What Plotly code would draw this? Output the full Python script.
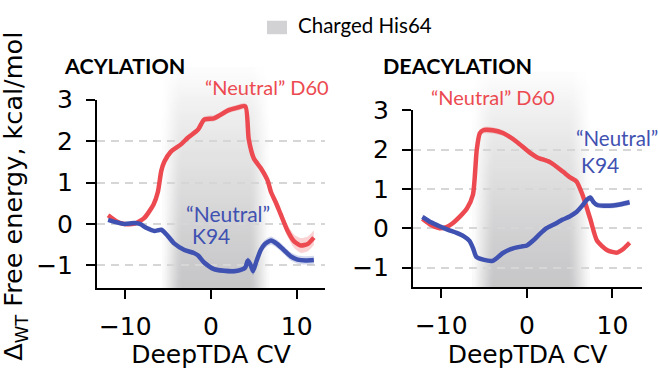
import base64
import struct
import zlib

import plotly.graph_objects as go

# ---------------- data ----------------
acyl_d60_x = [-12.0, -11.0, -10.1, -8.9, -7.8, -6.7, -6.2, -5.8, -5.45, -4.7, -3.5, -2.7, -1.5, -0.8,
              0.35, 1.0, 2.0, 3.0, 4.0, 4.4, 5.0, 5.8, 6.6, 7.0, 7.6, 8.1, 8.9, 9.7, 10.5, 11.3, 12.0]
acyl_d60_y = [0.21, 0.06, 0.0, 0.01, 0.14, 0.47, 0.77, 1.28, 1.5, 1.74, 1.92, 2.08, 2.28, 2.52,
              2.55, 2.62, 2.74, 2.8, 2.84, 2.05, 1.58, 1.35, 1.05, 0.77, 0.5, 0.25, -0.15, -0.42, -0.52, -0.48, -0.33]
acyl_d60_err = [0.04, 0.03, 0.03, 0.03, 0.03, 0.04, 0.04, 0.05, 0.05, 0.05, 0.05, 0.06, 0.06, 0.07,
                0.07, 0.07, 0.07, 0.07, 0.07, 0.06, 0.06, 0.06, 0.07, 0.08, 0.1, 0.12, 0.14, 0.16, 0.18, 0.18, 0.18]

acyl_k94_x = [-12.0, -11.0, -10.1, -9.0, -8.3, -7.5, -6.6, -5.8, -5.0, -4.3, -3.1, -2.0, -1.5, -0.8,
              0.35, 1.5, 2.7, 3.6, 4.0, 4.3, 4.6, 4.9, 5.3, 5.8, 6.3, 7.0, 7.7, 8.5, 9.3, 10.1, 11.0, 12.0]
acyl_k94_y = [0.1, 0.04, 0.0, 0.02, 0.0, -0.1, -0.17, -0.14, -0.3, -0.47, -0.63, -0.7, -0.76, -0.93,
              -1.09, -1.13, -1.14, -1.1, -1.05, -0.88, -0.98, -1.14, -0.9, -0.63, -0.48, -0.4, -0.48, -0.63,
              -0.78, -0.86, -0.88, -0.87]
acyl_k94_err = [0.03, 0.03, 0.03, 0.03, 0.03, 0.03, 0.04, 0.04, 0.04, 0.04, 0.04, 0.05, 0.05, 0.05,
                0.06, 0.06, 0.06, 0.06, 0.07, 0.08, 0.08, 0.1, 0.1, 0.1, 0.1, 0.1, 0.1, 0.1,
                0.1, 0.1, 0.1, 0.1]

deacyl_d60_x = [-12.2, -11.2, -10.2, -9.4, -8.7, -7.8, -7.0, -6.3, -5.85, -5.5, -5.1, -4.0, -2.8, -2.0,
                -1.2, 0.35, 1.2, 2.7, 4.2, 5.0, 5.8, 6.5, 7.4, 8.2, 9.4, 10.5, 11.3, 12.0]
deacyl_d60_y = [0.24, 0.08, 0.0, 0.03, 0.12, 0.3, 0.5, 0.85, 2.0, 2.41, 2.49, 2.49, 2.42, 2.32,
                2.2, 1.92, 1.8, 1.68, 1.44, 1.3, 1.19, 0.85, 0.24, -0.32, -0.56, -0.62, -0.52, -0.37]
deacyl_d60_err = [0.05, 0.04, 0.03, 0.03, 0.03, 0.04, 0.04, 0.05, 0.06, 0.07, 0.08, 0.08, 0.07, 0.06,
                  0.06, 0.06, 0.06, 0.06, 0.06, 0.06, 0.06, 0.06, 0.06, 0.06, 0.06, 0.06, 0.06, 0.06]

deacyl_k94_x = [-12.2, -11.2, -10.2, -9.2, -8.2, -7.4, -6.7, -6.3, -5.9, -5.1, -4.0, -3.4, -2.8, -1.6,
                -0.5, 0.0, 0.7, 1.5, 2.3, 3.2, 4.2, 5.0, 5.8, 6.5, 7.0, 7.4, 7.8, 8.2, 9.0, 10.1, 11.0, 12.0]
deacyl_k94_y = [0.29, 0.15, 0.05, -0.04, -0.12, -0.2, -0.32, -0.5, -0.73, -0.8, -0.83, -0.74, -0.63, -0.51,
                -0.46, -0.44, -0.32, -0.15, 0.0, 0.1, 0.22, 0.3, 0.41, 0.58, 0.72, 0.78, 0.66, 0.59,
                0.57, 0.58, 0.61, 0.66]
deacyl_k94_err = [0.06, 0.05, 0.04, 0.03, 0.03, 0.03, 0.03, 0.04, 0.04, 0.04, 0.04, 0.04, 0.04, 0.04,
                  0.04, 0.04, 0.04, 0.04, 0.04, 0.04, 0.04, 0.05, 0.05, 0.05, 0.06, 0.06, 0.06, 0.07,
                  0.07, 0.07, 0.07, 0.07]

# charged His64 region (DeepTDA CV) per panel
acyl_charged = (-4.4, 5.5)
deacyl_charged = (-5.1, 6.1)

y_ticks = [-1, 0, 1, 2, 3]
x_ticks = [-10, 0, 10]

titles = ["ACYLATION", "DEACYLATION"]
legend_label = "Charged His64"
x_title = "DeepTDA CV"
y_title = "Δ<sub>WT</sub> Free energy, kcal/mol"

# ---------------- style ----------------
RED = "#EC4A50"
BLUE = "#3F51B1"
RED_BAND = "rgba(236,74,80,0.25)"
BLUE_BAND = "rgba(63,81,177,0.22)"
TICK_FONT = dict(family="DejaVu Sans", size=25, color="black")
ANN_FONT = "Lato"

W, H = 658, 369


def px(X):
    return X / W


def py(Y):
    return 1 - Y / H


fig = go.Figure()


def add_series(x, y, err, color, band, xa, ya):
    upper = [v + e for v, e in zip(y, err)]
    lower = [v - e for v, e in zip(y, err)]
    ln = dict(width=0, shape="spline", smoothing=0.6)
    fig.add_trace(go.Scatter(x=x, y=upper, mode="lines", line=ln,
                             xaxis=xa, yaxis=ya, showlegend=False, hoverinfo="skip"))
    fig.add_trace(go.Scatter(x=x, y=lower, mode="lines", line=ln,
                             fill="tonexty", fillcolor=band, xaxis=xa, yaxis=ya, showlegend=False,
                             hoverinfo="skip"))
    fig.add_trace(go.Scatter(x=x, y=y, mode="lines",
                             line=dict(color=color, width=4.5, shape="spline", smoothing=0.6),
                             xaxis=xa, yaxis=ya, showlegend=False))


add_series(acyl_d60_x, acyl_d60_y, acyl_d60_err, RED, RED_BAND, "x", "y")
add_series(acyl_k94_x, acyl_k94_y, acyl_k94_err, BLUE, BLUE_BAND, "x", "y")
add_series(deacyl_d60_x, deacyl_d60_y, deacyl_d60_err, RED, RED_BAND, "x2", "y2")
add_series(deacyl_k94_x, deacyl_k94_y, deacyl_k94_err, BLUE, BLUE_BAND, "x2", "y2")


# ---- soft gradient image for the charged region (tiny PNG stretched by the browser) ----
def gradient_png(nx, ny, fade_cols, max_alpha, rgb):
    rows = []
    for r in range(ny):
        v = (r + 0.5) / ny  # 0 at top, 1 at bottom
        va = v ** 0.8
        row = bytearray([0])
        for c in range(nx):
            d = min(c + 0.5, nx - c - 0.5)
            ha = min(1.0, d / fade_cols)
            a = int(round(255 * max_alpha * va * ha))
            row += bytes([rgb[0], rgb[1], rgb[2], a])
        rows.append(bytes(row))
    raw = b"".join(rows)

    def chunk(tag, data):
        c = struct.pack(">I", len(data)) + tag + data
        return c + struct.pack(">I", zlib.crc32(tag + data) & 0xFFFFFFFF)

    png = b"\x89PNG\r\n\x1a\n"
    png += chunk(b"IHDR", struct.pack(">IIBBBBB", nx, ny, 8, 6, 0, 0, 0))
    png += chunk(b"IDAT", zlib.compress(raw, 9))
    png += chunk(b"IEND", b"")
    return "data:image/png;base64," + base64.b64encode(png).decode()


GRAD = gradient_png(30, 24, 5.0, 0.36, (95, 95, 100))


def add_shade(span, xref, bottom_px, top_px):
    fade = 1.3
    fig.add_layout_image(source=GRAD, xref=xref, yref="paper", x=span[0] - fade, y=py(top_px),
                         sizex=(span[1] - span[0]) + 2 * fade, sizey=(bottom_px - top_px) / H,
                         sizing="stretch", xanchor="left", yanchor="top", layer="below", opacity=1)


add_shade(acyl_charged, "x", 285, 55)
add_shade(deacyl_charged, "x2", 284, 60)

axis_common = dict(showline=True, linecolor="black", linewidth=2, ticks="outside", ticklen=9,
                   tickwidth=2, tickcolor="black", tickfont=TICK_FONT, zeroline=False)
title_font = dict(family="DejaVu Sans", size=25, color="black")
grid = dict(showgrid=True, gridcolor="#d6d6d6", gridwidth=1.5, griddash="8px,6px")

fig.update_layout(
    width=W, height=H, margin=dict(l=0, r=0, t=0, b=0),
    plot_bgcolor="rgba(0,0,0,0)", paper_bgcolor="white", showlegend=False,
    xaxis=dict(domain=[px(97), px(325)], range=[-13.3, 13.3], tickvals=x_ticks, showgrid=False,
               anchor="y", ticklabelstandoff=6, title=dict(text=x_title, font=title_font, standoff=4),
               **axis_common),
    yaxis=dict(domain=[py(285), py(89)], range=[-1.55, 3.0], tickvals=y_ticks, anchor="x",
               ticklabelstandoff=8, **grid, **axis_common),
    xaxis2=dict(domain=[px(413), px(642)], range=[-13.3, 13.45], tickvals=x_ticks, showgrid=False,
                anchor="y2", ticklabelstandoff=6, title=dict(text=x_title, font=title_font, standoff=4),
                **axis_common),
    yaxis2=dict(domain=[py(284), py(100)], range=[-1.5, 3.0], tickvals=y_ticks, anchor="x2",
                ticklabelstandoff=8, **grid, **axis_common),
)

# legend (square + label)
fig.add_shape(type="rect", xref="paper", yref="paper", x0=px(267), x1=px(287),
              y0=py(21), y1=py(7), fillcolor="#d2d2d4", line=dict(width=0))
fig.add_annotation(xref="paper", yref="paper", x=px(296), y=py(11), text=legend_label,
                   showarrow=False, xanchor="left", yanchor="middle",
                   font=dict(family=ANN_FONT, size=20.5, color="black"))

# panel titles
for t, X in zip(titles, [62, 381]):
    fig.add_annotation(xref="paper", yref="paper", x=px(X), y=py(54), text="<b>%s</b>" % t,
                       showarrow=False, xanchor="left", yanchor="middle",
                       font=dict(family=ANN_FONT, size=21.5, color="black"))

# y axis label
fig.add_annotation(xref="paper", yref="paper", x=px(15), y=py(190), text=y_title, textangle=-90,
                   showarrow=False, xanchor="center", yanchor="middle",
                   font=dict(family="DejaVu Sans", size=25.5, color="black"))


# series labels
def label(text, x, y, xa, ya, color, size=21):
    fig.add_annotation(xref=xa, yref=ya, x=x, y=y, text=text, showarrow=False, xanchor="left",
                       yanchor="middle", font=dict(family=ANN_FONT, size=size, color=color))


label("“Neutral” D60", -0.9, py(76), "x", "paper", RED, 20)
label("“Neutral”", -3.2, 0.25, "x", "y", BLUE)
label("K94", -2.4, -0.28, "x", "y", BLUE)
label("“Neutral” D60", -11.4, py(86), "x2", "paper", RED, 20)
label("“Neutral”", 5.45, 2.29, "x2", "y2", BLUE, 20.5)
label("K94", 6.1, 1.63, "x2", "y2", BLUE)

fig.write_html("out.html", config={"displayModeBar": False},
               post_script="document.body.style.margin='0';")
